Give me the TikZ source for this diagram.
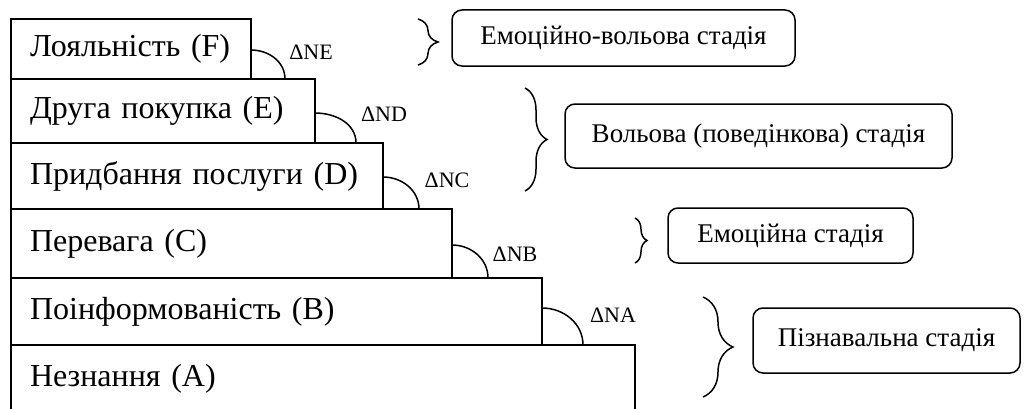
\documentclass[tikz,border=0pt]{standalone}
\usepackage{fontspec}
\setmainfont{Liberation Serif}
\usetikzlibrary{decorations.pathreplacing}
\begin{document}
\begin{tikzpicture}[x=1pt,y=1pt,
  level/.style={draw, line width=1.5pt, anchor=north west, outer sep=0pt, inner xsep=19pt, inner ysep=0pt, align=left, font=\fontsize{32}{36}\selectfont},
  stage/.style={draw, line width=1.5pt, rounded corners=10pt, outer sep=0pt, inner sep=0pt, font=\fontsize{27}{30}\selectfont},
  delta/.style={inner sep=0pt, font=\fontsize{22}{26}\selectfont},
  arcline/.style={line width=1.5pt},
  bracel/.style={decorate, decoration={brace, amplitude=#1}, line width=1.5pt},
]
\useasboundingbox (0,0) rectangle (1024,408);
\clip (0,0) rectangle (1024,408);

% levels
\node[level, text width=586pt, minimum height=67pt] (A) at (11,63)  {\mbox{Незнання (A)}};
\node[level, text width=493pt, minimum height=67pt] (B) at (11,130) {\mbox{Поінформованість (B)}};
\node[level, text width=403pt, minimum height=69pt] (C) at (11,199) {\mbox{Перевага (C)}};
\node[level, text width=334pt, minimum height=66pt] (D) at (11,265) {\mbox{Придбання послуги (D)}};
\node[level, text width=266pt, minimum height=64pt] (E) at (11,329) {\mbox{Друга покупка (E)}};
\node[level, text width=202pt, minimum height=60pt] (F) at (11,389) {\mbox{Лояльність (F)}};

% arcs
\draw[arcline] ([yshift=29pt]F.south east) to[out=0,in=90] ([xshift=34pt]F.south east);
\draw[arcline] ([yshift=30pt]E.south east) to[out=0,in=90] ([xshift=41pt]E.south east);
\draw[arcline] ([yshift=32pt]D.south east) to[out=0,in=90] ([xshift=36pt]D.south east);
\draw[arcline] ([yshift=33pt]C.south east) to[out=0,in=90] ([xshift=36pt]C.south east);
\draw[arcline] ([yshift=37pt]B.south east) to[out=0,in=90] ([xshift=41pt]B.south east);

% delta labels
\node[delta] (dNE) at (311,356) {ΔNE};
\node[delta] (dND) at (384,294) {ΔND};
\node[delta] (dNC) at (447,228) {ΔNC};
\node[delta] (dNB) at (515,154) {ΔNB};
\node[delta] (dNA) at (613,93)  {ΔNA};

% stage boxes
\node[stage, minimum width=343pt, minimum height=56pt] (S1) at (623.5,370)  {Емоційно-вольова стадія};
\node[stage, minimum width=387pt, minimum height=64pt] (S2) at (758.5,272)  {Вольова (поведінкова) стадія};
\node[stage, minimum width=245pt, minimum height=55pt] (S3) at (790.5,172.5) {Емоційна стадія};
\node[stage, minimum width=267pt, minimum height=65pt] (S4) at (886.5,67.5)  {Пізнавальна стадія};

% braces
\draw[bracel=20] (418,389) -- (418,343);
\draw[bracel=22] (525,320) -- (525,217);
\draw[bracel=12] (635,190) -- (635,145);
\draw[bracel=30] (703,111) -- (703,11);
\end{tikzpicture}
\end{document}
